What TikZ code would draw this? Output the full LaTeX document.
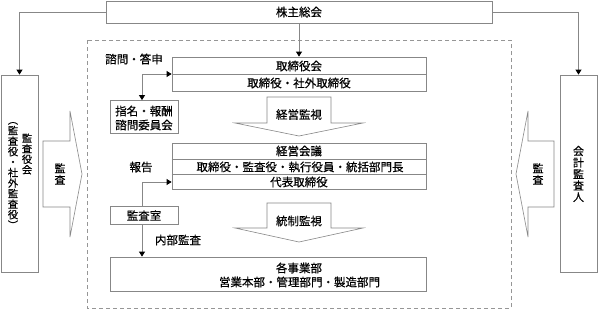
\documentclass[tikz,border=0pt]{standalone}
\usepackage{fontspec}
\setmainfont{Noto Sans CJK JP}[FakeBold=0.5]
\usetikzlibrary{arrows.meta}
\lineskiplimit=-100pt
\definecolor{linegray}{RGB}{135,135,135}
\definecolor{dashgray}{RGB}{150,150,150}
\tikzset{
  box/.style={draw=linegray, line width=0.8pt, fill=white, inner sep=0pt},
  txt/.style={inner sep=0pt, font=\fontsize{11.5}{14}\selectfont},
  vtxt/.style={inner sep=0pt, align=center, font=\fontsize{11}{11.5}\selectfont},
  vtxts/.style={inner sep=0pt, align=center, font=\fontsize{10.2}{10.5}\selectfont},
  conn/.style={draw=linegray, line width=0.8pt, -{Triangle[length=5pt,width=6pt,color=black]}},
  dconn/.style={draw=linegray, line width=0.8pt, {Triangle[length=5pt,width=6pt,color=black]}-{Triangle[length=5pt,width=6pt,color=black]}},
  bigarrow/.style={draw=linegray, line width=0.6pt, fill=white},
  divider/.style={draw=linegray, line width=0.8pt},
}
\begin{document}
\begin{tikzpicture}[x=1pt,y=-1pt]
\useasboundingbox[fill=white] (0,0) rectangle (598,309);

% dashed frame
\draw[dashgray, line width=0.8pt, dash pattern=on 4pt off 3pt] (87,40) rectangle (511,308);

% top box
\node[box, minimum width=386pt, minimum height=22pt] (sh) at (299,12) {};
\node[txt] (shT) at (299,12) {株主総会};

% side boxes
\node[box, minimum width=37pt, minimum height=197pt] (lb) at (19.5,173.5) {};
\node[box, minimum width=37pt, minimum height=197pt] (rb) at (578.5,173.5) {};
\node[vtxts] (lbA) at (27,154) {監\\査\\役\\会};
\node[vtxts] (lbB) at (13,175.5) {︵\\監\\査\\役\\・\\社\\外\\監\\査\\役\\︶};
\node[vtxt] (rbT) at (578.5,174) {会\\計\\監\\査\\人};

\draw[conn] (sh.west) -| (lb.north);
\draw[conn] (sh.east) -| (rb.north);

% board of directors
\node[box, minimum width=254pt, minimum height=34pt] (tb) at (299,74) {};
\draw[divider] (tb.west |- 0,74.5) -- (tb.east |- 0,74.5);
\node[txt] (tbA) at (299,66) {取締役会};
\node[txt] (tbB) at (299,83) {取締役・社外取締役};
\draw[conn] (sh.south) -- (tb.north);

% nomination committee
\node[txt] (shimonL) at (134,59) {諮問・答申};
\node[box, minimum width=68pt, minimum height=33pt] (nc) at (144,117) {};
\node[txt, align=left] (ncT) at (144,118) {指名・報酬\\諮問委員会};
\draw[dconn] (tb.west |- 0,74) -| ([xshift=-2pt]nc.north);

% management monitoring arrow
\draw[bigarrow] (267,97) -- (331,97) -- (331,123) -- (363,123) -- (299,136) -- (235,123) -- (267,123) -- cycle;
\node[txt] (kmT) at (299,114.5) {経営監視};

% management council
\node[box, minimum width=254pt, minimum height=46pt] (mc) at (299,166) {};
\draw[divider] (mc.west |- 0,159) -- (mc.east |- 0,159);
\draw[divider] (mc.west |- 0,174.5) -- (mc.east |- 0,174.5);
\node[txt] (mcA) at (299,151) {経営会議};
\node[txt] (mcB) at (300,167) {取締役・監査役・執行役員・統括部門長};
\node[txt] (mcC) at (299,182) {代表取締役};

% audit office
\node[txt] (hokokuL) at (141,167) {報告};
\node[box, minimum width=68pt, minimum height=18pt] (ao) at (144,215) {};
\node[txt] (aoT) at (144,215.5) {監査室};
\draw[conn] ([xshift=-2pt]ao.north) |- (mc.west |- 0,182);

% control monitoring arrow
\draw[bigarrow] (267,203) -- (331,203) -- (331,228) -- (363,228) -- (299,242) -- (235,228) -- (267,228) -- cycle;
\node[txt] (tsT) at (299,221) {統制監視};

% business divisions
\node[box, minimum width=316pt, minimum height=34pt] (bd) at (268,274) {};
\node[txt] (bdA) at (299,268) {各事業部};
\node[txt] (bdB) at (299.5,282) {営業本部・管理部門・製造部門};
\node[txt] (naibuL) at (178,240) {内部監査};
\draw[conn] ([xshift=-2pt]ao.south) -- ([xshift=-2pt]ao.south |- bd.north);

% audit arrows
\draw[bigarrow] (43,141) -- (70,141) -- (70,111) -- (82,174) -- (70,237) -- (70,207) -- (43,207) -- cycle;
\node[vtxt] (laT) at (60,174) {監\\査};
\draw[bigarrow] (554,141) -- (528,141) -- (528,111) -- (516,174) -- (528,237) -- (528,207) -- (554,207) -- cycle;
\node[vtxt] (raT) at (538,174) {監\\査};
\end{tikzpicture}
\end{document}
